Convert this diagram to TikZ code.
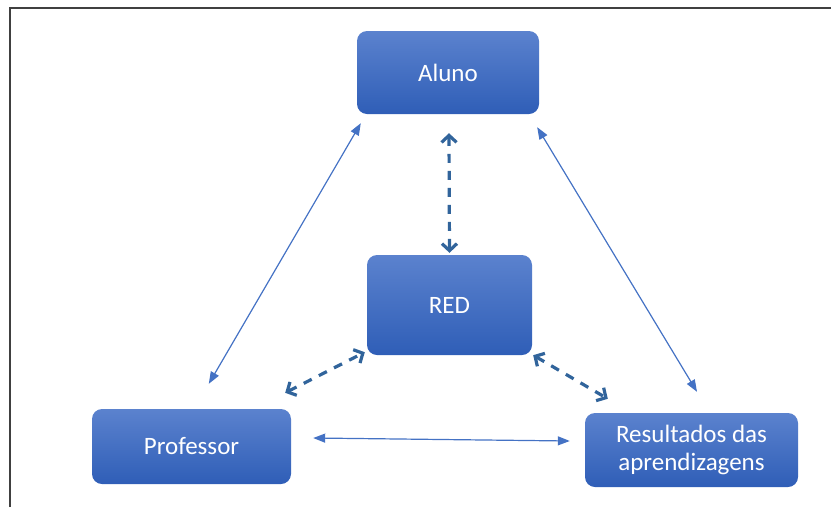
\documentclass[tikz,border=0pt]{standalone}
\usepackage{fontspec}
\setmainfont{Carlito}
\usetikzlibrary{arrows.meta}
\definecolor{boxtop}{HTML}{5B82CE}
\definecolor{boxbot}{HTML}{2F5EB7}
\definecolor{linkblue}{HTML}{4472C4}
\definecolor{dashblue}{HTML}{31649B}

\begin{document}
\begin{tikzpicture}[x=1pt,y=-1pt,
    box/.style={rectangle, rounded corners=10pt, top color=boxtop, bottom color=boxbot, text=white, font=\fontsize{25}{28}\selectfont, align=center, inner sep=0pt},
    link/.style={linkblue, line width=1.2pt, {Triangle[length=12pt,width=9pt]}-{Triangle[length=12pt,width=9pt]}},
    dlink/.style={dashblue, line width=3.2pt, dash pattern=on 9pt off 8pt, {Straight Barb[length=7pt,width=15pt]}-{Straight Barb[length=7pt,width=15pt]}}]
    \useasboundingbox (0,0) rectangle (831,507);
    \draw[line width=2pt, black!75] (10,507) -- (10,8) -- (831,8);

    \node[box, minimum width=182pt, minimum height=83pt] (aluno) at (448,72.5) {Aluno};
    \node[box, minimum width=165pt, minimum height=100pt] (red) at (449.5,305) {RED};
    \node[box, minimum width=199pt, minimum height=75pt] (professor) at (191.5,446.5) {Professor};
    \node[box, minimum width=213pt, minimum height=74pt] (resultados) at (691.5,450) {Resultados das\\aprendizagens};

    \draw[link] ([shift={(4,9)}]aluno.south west) -- ([shift={(117,-25)}]professor.north west);
    \draw[link] ([shift={(-2,13)}]aluno.south east) -- ([shift={(5.5,-21)}]resultados.north);
    \draw[link] ([shift={(22,-8.5)}]professor.east) -- ([shift={(-15,-9)}]resultados.west);

    \draw[dlink] ([shift={(1,19)}]aluno.south) -- ([shift={(0,-2)}]red.north);
    \draw[dlink] ([shift={(-6,-16)}]professor.north east) -- ([shift={(-2,-3)}]red.south west);
    \draw[dlink] ([shift={(1,0)}]red.south east) -- ([shift={(23,-14)}]resultados.north west);
\end{tikzpicture}
\end{document}
